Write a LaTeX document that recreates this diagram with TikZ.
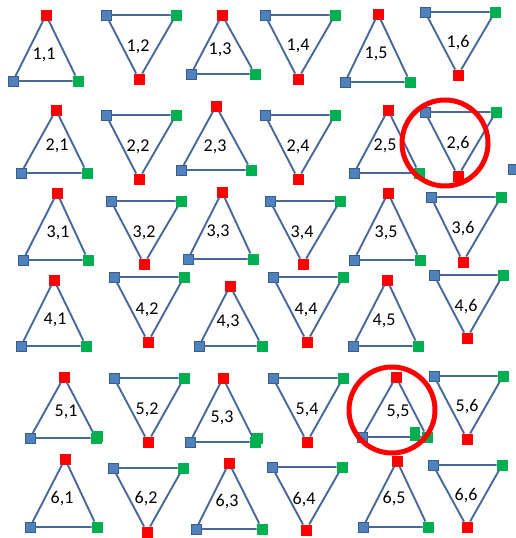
\documentclass[tikz,border=0pt]{standalone}
\usepackage{fontspec}
\setmainfont{Carlito}
\usetikzlibrary{positioning}
\definecolor{Edge}{HTML}{46699A}
\definecolor{VRed}{HTML}{FF0000}
\definecolor{VBlue}{HTML}{4F81BD}
\definecolor{VBlueLine}{HTML}{385D8A}
\definecolor{VGreen}{HTML}{00B050}
\definecolor{Ring}{HTML}{FF0000}

\begin{document}
\begin{tikzpicture}[x=1pt,y=-1pt,
    v/.style={minimum size=11pt,inner sep=0pt,outer sep=0pt},
    rv/.style={v,fill=VRed},
    bv/.style={v,fill=VBlue,draw=VBlueLine,line width=0.8pt,minimum size=10pt},
    gv/.style={v,fill=VGreen},
    e/.style={draw=Edge,line width=1.9pt},
    lab/.style={font=\fontsize{18}{18}\selectfont,inner sep=0pt},
    ring/.style={circle,draw=Ring,line width=5pt,minimum size=86pt,inner sep=0pt}]
    \useasboundingbox (0,0) rectangle (515,538);
    % row/col / red / blue / green / label
    \foreach \i/\j/\rx/\ry/\bx/\by/\gx/\gy/\lx/\ly in {
      1/1/46/15/13/81/78/81/44/55,     1/2/139/79/106/15/176/15/138/47,
      1/3/222/15/191/74/255/74/220/50, 1/4/298/79/265/15/335/15/298/46,
      1/5/378/14/345/82/410/82/376/54, 1/6/458/75/425/12/495/12/458/43,
      2/1/56/110/21/173/87/173/57/146, 2/2/139/179/106/115/176/115/138/147,
      2/3/216/106/181/170/251/170/215/147, 2/4/298/179/265/115/335/115/298/147,
      2/5/388/110/354/173/419/173/385/146, 2/6/458/176/425/112/496/112/458/144,
      3/1/57/193/23/260/88/260/58/233, 3/2/144/264/111/201/181/201/144/233,
      3/3/222/192/188/259/253/259/218/232, 3/4/303/264/270/201/340/201/302/233,
      3/5/388/193/354/260/420/260/386/233, 3/6/463/262/431/197/501/197/463/229,
      4/1/54/280/21/346/86/346/55/320, 4/2/148/342/114/277/184/277/147/310,
      4/3/230/286/199/346/262/346/228/322, 4/4/307/342/273/277/343/277/306/310,
      4/5/387/280/353/346/418/346/384/321, 4/6/467/338/434/275/503/275/466/307,
      5/1/64/377/30/438/96/438/66/412, 5/2/148/442/114/378/184/378/147/410,
      5/3/223/378/190/442/255/442/222/418, 5/4/307/442/273/378/343/378/307/410,
      5/5/396/377/362/437/427/437/398/412, 5/6/467/439/434/376/503/376/467/407,
      6/1/65/459/30/527/97/527/62/499, 6/2/147/532/113/468/183/468/146/499,
      6/3/229/463/196/529/262/529/227/502, 6/4/306/530/272/467/342/467/304/500,
      6/5/397/461/363/527/428/527/394/499, 6/6/467/527/433/465/502/465/466/496}{
      \node[rv] (r\i\j) at (\rx,\ry) {};
      \node[bv] (b\i\j) at (\bx,\by) {};
      \node[gv] (g\i\j) at (\gx,\gy) {};
      \draw[e] (r\i\j) -- (b\i\j) -- (g\i\j) -- (r\i\j);
      \node[lab] (t\i\j) at (\lx,\ly) {\i,\j};
    }
    % doubled squares
    \node[gv] (g51b) at (97,436) {};
    \node[gv] (g53b) at (257,438) {};
    \node[gv,minimum width=10pt,minimum height=14pt] (g55b) at (415,434) {};
    \node[bv] (bstray) at (513,169) {};
    % marked cells
    \node[ring] (c26) at (445,143) {};
    \node[ring] (c55) at (392,410) {};
\end{tikzpicture}
\end{document}
